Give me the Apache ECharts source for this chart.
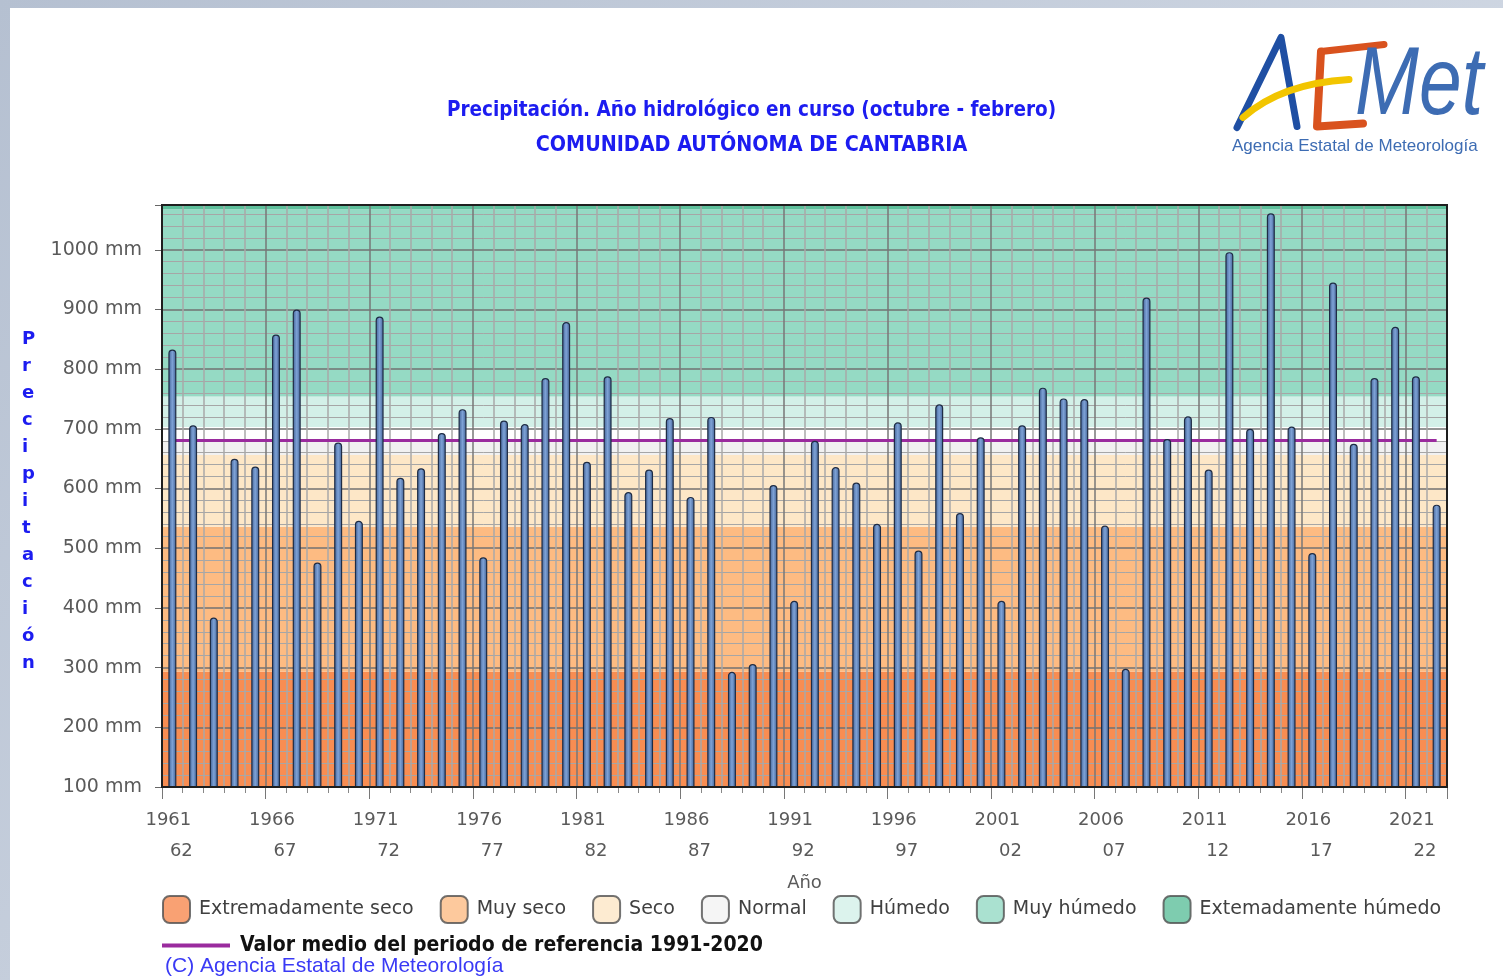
<!DOCTYPE html>
<html>
<head>
<meta charset="utf-8">
<title>Precipitación - Cantabria</title>
<script src="https://cdn.jsdelivr.net/npm/echarts@6/dist/echarts.min.js"></script>
<style>
  html, body { margin: 0; padding: 0; }
  body { width: 1503px; height: 980px; position: relative; overflow: hidden;
         background: linear-gradient(135deg, #b5c0d1, #dde3ec); }
  .panel { position: absolute; left: 10px; top: 8px; right: 0; bottom: 0; background: #fff; }
  #chart { position: absolute; left: 0; top: 0; width: 1503px; height: 980px; }
</style>
</head>
<body>
<div class="panel"></div>
<div id="chart"></div>
<script>
// años hidrológicos (octubre - febrero)
const years = [
  '1961-62', '1962-63', '1963-64', '1964-65', '1965-66', '1966-67', '1967-68', '1968-69', '1969-70', '1970-71',
  '1971-72', '1972-73', '1973-74', '1974-75', '1975-76', '1976-77', '1977-78', '1978-79', '1979-80', '1980-81',
  '1981-82', '1982-83', '1983-84', '1984-85', '1985-86', '1986-87', '1987-88', '1988-89', '1989-90', '1990-91',
  '1991-92', '1992-93', '1993-94', '1994-95', '1995-96', '1996-97', '1997-98', '1998-99', '1999-00', '2000-01',
  '2001-02', '2002-03', '2003-04', '2004-05', '2005-06', '2006-07', '2007-08', '2008-09', '2009-10', '2010-11',
  '2011-12', '2012-13', '2013-14', '2014-15', '2015-16', '2016-17', '2017-18', '2018-19', '2019-20', '2020-21',
  '2021-22', '2022-23'
]

// precipitación acumulada (mm)
const precipitation = [
  833, 706, 384, 650, 637, 858, 900, 476, 677, 546,
  888, 618, 634, 693, 733, 485, 714, 708, 785, 879,
  645, 788, 594, 632, 718, 586, 720, 293, 306, 606,
  412, 680, 636, 610, 541, 711, 496, 741, 559, 686,
  412, 706, 769, 751, 750, 538, 298, 920, 683, 721,
  632, 996, 700, 1061, 704, 492, 945, 675, 785, 871,
  788, 573
]

const referenceMean = 681
const meanLabel = 'Valor medio del periodo de referencia 1991-2020'

// franjas de fondo (mm)
const bandEdges = [100, 293, 536, 656, 680, 703, 754, 1068, 1075]
const bandFills = ['#f88d52', '#fdbb82', '#fde7c7', '#f1f1f1', '#ffffff', '#d3f0e8', '#95dac4', '#5ebf9b']

const legendNames = ['Extremadamente seco', 'Muy seco', 'Seco', 'Normal', 'Húmedo', 'Muy húmedo', 'Extemadamente húmedo']
const legendColors = ['#f78a50', '#fdbc84', '#fde6c6', '#f2f2f2', '#d3f0e8', '#95dac4', '#5ebf9b']

const chart = echarts.init(document.getElementById('chart'))

const font = 'DejaVu Sans'
const narrow = '"DejaVu Sans Condensed", "DejaVu Sans"'
const grey = '#5a5a5a'
const blue = '#1c1cf0'

const barFill = new echarts.graphic.LinearGradient(0, 0, 1, 0, [
  { offset: 0, color: '#3f5f93' },
  { offset: 0.5, color: '#7ea2d6' },
  { offset: 1, color: '#3f5f93' }
])

const legendSeries = legendNames.map((n, i) => ({
  name: n,
  type: 'scatter',
  data: [],
  itemStyle: { color: legendColors[i], borderColor: '#505050', borderWidth: 1.5 }
}))

const option = {
  animation: false,
  title: {
    text: 'Precipitación. Año hidrológico en curso (octubre - febrero)',
    subtext: 'COMUNIDAD AUTÓNOMA DE CANTABRIA',
    left: 'center',
    top: 95,
    itemGap: 14,
    textStyle: { fontFamily: narrow, fontWeight: 'bold', fontSize: 20.5, color: blue },
    subtextStyle: { fontFamily: narrow, fontWeight: 'bold', fontSize: 21.3, color: blue }
  },
  legend: [{
    data: legendNames.map(n => ({ name: n, icon: 'roundRect' })),
    left: 157,
    top: 890,
    itemWidth: 27,
    itemHeight: 27,
    itemGap: 26,
    selectedMode: false,
    textStyle: { fontFamily: font, fontSize: 19, color: '#404040', padding: [0, 0, 0, 4] }
  }, {
    data: [{ name: meanLabel, icon: 'rect', itemStyle: { color: '#9a2b9e' } }],
    left: 157,
    top: 930,
    itemWidth: 68,
    itemHeight: 4,
    selectedMode: false,
    textStyle: { fontFamily: narrow, fontWeight: 'bold', fontSize: 21, color: '#111', padding: [0, 0, 0, 5] }
  }],
  grid: {
    left: 162, right: 56, top: 205, bottom: 193,
    show: true, z: 4,
    backgroundColor: 'transparent',
    borderColor: '#1e1e1e', borderWidth: 2
  },
  xAxis: [{
    type: 'category',
    data: years,
    position: 'bottom',
    z: 1,
    axisLine: { show: true, lineStyle: { color: '#222', width: 2 } },
    axisTick: { show: true, interval: 0, length: 6, lineStyle: { color: '#888' } },
    axisLabel: {
      interval: 4,
      margin: 18,
      formatter: v => {
        const [a, b] = v.split('-')
        return `{a|${a}}\n{b|${b}}`
      },
      rich: {
        a: { fontFamily: font, fontSize: 18, color: grey, lineHeight: 31, padding: [0, 8, 0, 0] },
        b: { fontFamily: font, fontSize: 18, color: grey, lineHeight: 31, padding: [0, 0, 0, 18] }
      }
    },
    splitLine: {
      show: true,
      interval: 0,
      lineStyle: { color: ['#777', '#a9a9a9', '#a9a9a9', '#a9a9a9', '#a9a9a9'], width: 1.5 }
    },
    name: 'Año',
    nameLocation: 'middle',
    nameGap: 87,
    nameTextStyle: { fontFamily: font, fontSize: 18, color: grey }
  }, {
    type: 'category',
    data: years,
    position: 'bottom',
    z: 1,
    axisLine: { show: false },
    axisTick: { show: true, interval: 4, length: 12, lineStyle: { color: '#777' } },
    axisLabel: { show: false },
    splitLine: { show: false }
  }],
  yAxis: {
    type: 'value',
    min: 100,
    max: 1075,
    interval: 100,
    z: 1,
    axisLine: { show: true, lineStyle: { color: '#222', width: 2 } },
    axisTick: { show: true, length: 7, lineStyle: { color: '#666' } },
    axisLabel: {
      margin: 20,
      fontFamily: font,
      fontSize: 19,
      color: grey,
      formatter: v => (v % 100 === 0 ? v + ' mm' : '')
    },
    splitLine: { lineStyle: { color: '#727272', width: 1.5 } },
    minorTick: { show: false, splitNumber: 5 },
    minorSplitLine: { show: true, lineStyle: { color: '#a6a6a6', width: 1 } }
  },
  series: [
    {
      // franjas de clasificación
      type: 'line',
      data: precipitation,
      z: 0,
      silent: true,
      symbol: 'none',
      lineStyle: { opacity: 0 },
      markArea: {
        z: 0,
        silent: true,
        data: bandFills.map((c, i) => [
          { yAxis: bandEdges[i], itemStyle: { color: c } },
          { yAxis: bandEdges[i + 1] }
        ])
      }
    },
    {
      name: meanLabel,
      type: 'line',
      data: [],
      z: 2,
      color: '#9a2b9e',
      markLine: {
        z: 2,
        silent: true,
        symbol: 'none',
        label: { show: false },
        lineStyle: { color: '#9a2b9e', width: 3, type: 'solid' },
        data: [[
          { coord: [years[0], referenceMean] },
          { coord: [years[years.length - 1], referenceMean] }
        ]]
      }
    },
    {
      type: 'bar',
      data: precipitation,
      barWidth: 8,
      z: 3,
      itemStyle: {
        color: barFill,
        borderColor: '#1f2c44',
        borderWidth: 1.2,
        borderRadius: [4, 4, 0, 0]
      }
    },
    ...legendSeries
  ],
  graphic: [
    {
      type: 'text',
      left: 22,
      top: 326,
      style: {
        text: 'Precipitación'.split('').join('\n'),
        font: 'bold 18px "DejaVu Sans"',
        lineHeight: 27,
        align: 'center',
        fill: blue
      }
    },
    {
      type: 'text',
      left: 165,
      top: 956,
      style: {
        text: '(C) Agencia Estatal de Meteorología',
        font: '21px "Liberation Sans Narrow", "Liberation Sans"',
        fill: '#3a3af5'
      }
    },
    // logotipo AEMET
    {
      type: 'group',
      left: 1232,
      top: 34,
      children: [
        { type: 'polyline', shape: { points: [[6, 94], [50, 4], [66, 93]] },
          style: { stroke: '#1f4fa3', lineWidth: 7, fill: null, lineCap: 'round', lineJoin: 'round' } },
        { type: 'polyline', shape: { points: [[90, 18], [86, 93], [132, 90]] },
          style: { stroke: '#d9521e', lineWidth: 8, fill: null, lineCap: 'round', lineJoin: 'round' } },
        { type: 'line', shape: { x1: 90, y1: 18, x2: 153, y2: 11 },
          style: { stroke: '#d9521e', lineWidth: 7, lineCap: 'round' } },
        { type: 'bezierCurve', shape: { x1: 12, y1: 84, cpx1: 50, cpy1: 50, x2: 118, y2: 46 },
          style: { stroke: '#f2c500', lineWidth: 7, fill: null, lineCap: 'round' } },
        { type: 'text', x: 124, y: 6, scaleX: 0.8,
          style: { text: 'Met', font: 'italic 96px "Liberation Sans"', fill: '#3d6cb3' } },
        { type: 'text', x: 1, y: 104,
          style: { text: 'Agencia Estatal de Meteorología', font: '17px "Liberation Sans"', fill: '#3d6cb3' } }
      ]
    }
  ]
}

chart.setOption(option)

window.addEventListener('resize', () => chart.resize())
</script>
</body>
</html>
